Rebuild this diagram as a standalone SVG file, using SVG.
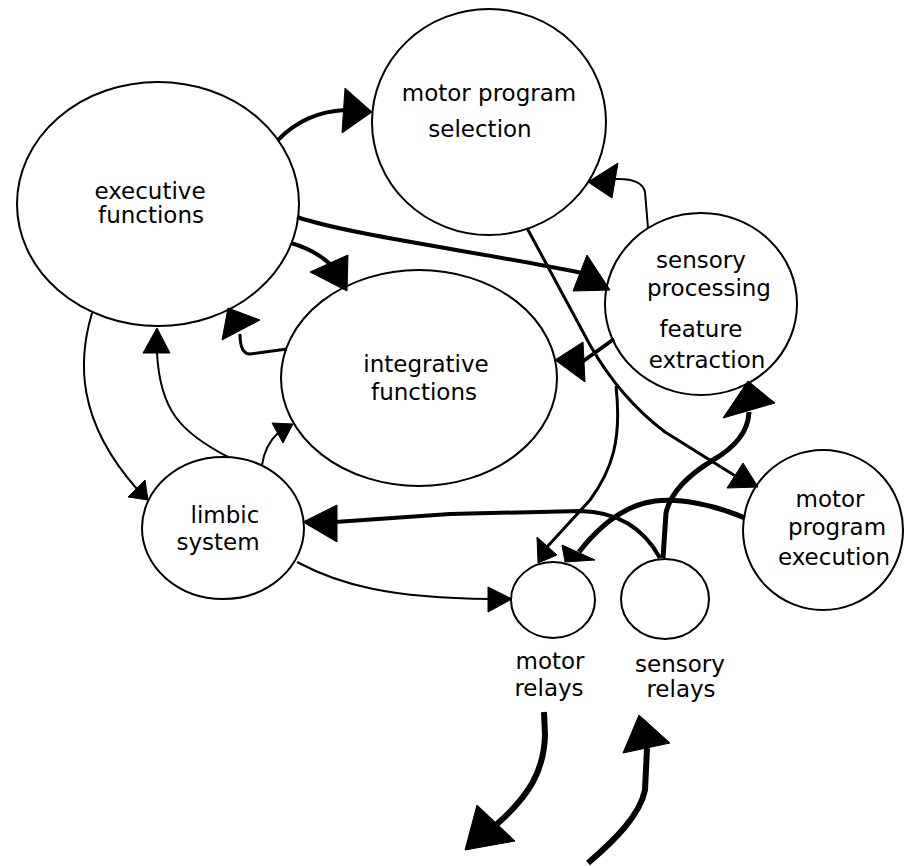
<svg xmlns="http://www.w3.org/2000/svg" width="905" height="866" viewBox="0 0 905 866">
<style>
.node ellipse{fill:#fff;stroke:#000;stroke-width:2}
.node text{font-family:"DejaVu Sans","Liberation Sans",sans-serif;font-size:23px;fill:#000;text-anchor:middle}
#connectors path{fill:none;stroke:#000;stroke-linejoin:round}
#connectors polygon{fill:#000;stroke:#000;stroke-width:1;stroke-linejoin:round}
.w2{stroke-width:2}
.w3{stroke-width:3}
.w4{stroke-width:4}
.w5{stroke-width:5}
.w6{stroke-width:6}
</style>
<rect width="905" height="866" fill="#fff"/>
<g id="executive-functions" class="node">
<ellipse cx="158" cy="204" rx="141" ry="122"/>
<text x="150" y="199">executive</text>
<text x="151" y="223">functions</text>
</g>
<g id="motor-program-selection" class="node">
<ellipse cx="489" cy="122" rx="117" ry="113"/>
<text x="489" y="101">motor program</text>
<text x="480" y="137">selection</text>
</g>
<g id="sensory-processing" class="node">
<ellipse cx="701" cy="304" rx="96" ry="91"/>
<text x="701" y="268">sensory</text>
<text x="709" y="296">processing</text>
<text x="701" y="337">feature</text>
<text x="707" y="368">extraction</text>
</g>
<g id="integrative-functions" class="node">
<ellipse cx="419" cy="378" rx="138" ry="108"/>
<text x="426" y="372">integrative</text>
<text x="424" y="400">functions</text>
</g>
<g id="limbic-system" class="node">
<ellipse cx="223" cy="528" rx="81" ry="71"/>
<text x="225" y="523">limbic</text>
<text x="218" y="550">system</text>
</g>
<g id="motor-program-execution" class="node">
<ellipse cx="823" cy="530" rx="80" ry="80"/>
<text x="830" y="507">motor</text>
<text x="837" y="535">program</text>
<text x="834" y="565">execution</text>
</g>
<g id="motor-relays" class="node">
<ellipse cx="553" cy="600" rx="42" ry="38"/>
<text x="550" y="669">motor</text>
<text x="549" y="696">relays</text>
</g>
<g id="sensory-relays" class="node">
<ellipse cx="665" cy="599" rx="44" ry="40"/>
<text x="680" y="672">sensory</text>
<text x="681" y="697">relays</text>
</g>
<g id="connectors">
<!-- executive -> motor program selection -->
<path class="w4" d="M278,140 Q305,112 345,110"/>
<polygon points="345,88 372,112 342,133"/>
<!-- executive -> sensory processing -->
<path class="w4" d="M297,217 C350,235 480,252 582,273"/>
<polygon points="587,255 610,290 573,291"/>
<!-- executive -> integrative -->
<path class="w4" d="M291,243 Q315,250 330,264"/>
<polygon points="348,255 347,291 310,272"/>
<!-- integrative -> executive -->
<path class="w3" d="M287,349 L250,354 Q240,354 240,334"/>
<polygon points="228,308 260,320 222,340"/>
<!-- limbic -> executive -->
<path class="w2" d="M228,457 C180,432 160,410 157,353"/>
<polygon points="157,328 170,353 143,353"/>
<!-- executive -> limbic -->
<path class="w2" d="M92,313 C78,360 76,420 137,489"/>
<polygon points="128,497 145,480 148,500"/>
<!-- limbic -> integrative -->
<path class="w2" d="M262,465 Q265,445 278,433"/>
<polygon points="272,423 293,424 283,443"/>
<!-- limbic -> motor relays -->
<path class="w2" d="M297,562 C340,585 390,598 490,599"/>
<polygon points="488,587 512,599 488,612"/>
<!-- sensory relays -> limbic -->
<path class="w4" d="M660,558 Q635,512 580,511 L450,514 L335,522"/>
<polygon points="337,505 303,522 337,542"/>
<!-- sensory relays -> sensory processing -->
<path class="w5" d="M663,558 L666,513 Q672,485 713,460 Q748,440 749,412"/>
<polygon points="723,418 748,381 775,403"/>
<!-- motor program execution -> motor relays -->
<path class="w5" d="M745,518 C715,505 680,498 655,501 C625,505 600,525 579,552"/>
<polygon points="562,545 565,562 595,560"/>
<!-- motor program selection -> motor program execution -->
<path class="w3" d="M527,228 L590,345 Q620,398 665,432 L737,477"/>
<polygon points="743,463 758,487 727,488"/>
<!-- branch -> motor relays -->
<path class="w3" d="M616,386 C622,440 612,470 590,500 L547,547"/>
<polygon points="537,537 538,563 557,555"/>
<!-- sensory processing -> integrative -->
<path class="w4" d="M614,339 L582,362"/>
<polygon points="583,342 555,360 585,382"/>
<!-- sensory processing -> motor program selection -->
<path class="w2" d="M648,228 L645,192 Q642,178 615,179"/>
<polygon points="588,182 618,163 612,198"/>
<!-- motor relays -> out -->
<path class="w6" d="M544,712 L545,735 C544,770 530,795 497,824"/>
<polygon points="477,805 465,850 515,841"/>
<!-- in -> sensory relays -->
<path class="w6" d="M588,863 C615,840 640,815 645,790 L647,748"/>
<polygon points="623,753 639,715 670,743"/>
</g>
</svg>
